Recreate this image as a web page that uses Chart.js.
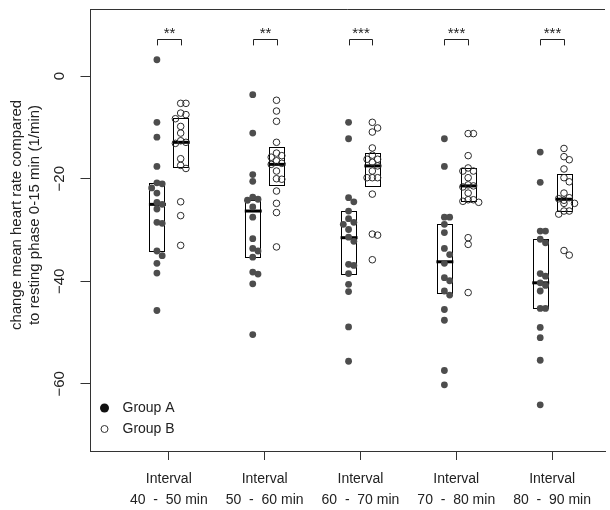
<!DOCTYPE html>
<html>
<head>
<meta charset="utf-8">
<script src="https://cdn.jsdelivr.net/npm/chart.js@4"></script>
<style>
  html, body { margin: 0; padding: 0; background: #fff; overflow: hidden; }
  #wrap { width: 610px; height: 510px; }
</style>
</head>
<body>
<div id="wrap"><canvas id="myChart" width="610" height="510"></canvas></div>
<script>
// 데이터
const categories = ["40  -  50 min", "50  -  60 min", "60  -  70 min", "70  -  80 min", "80  -  90 min"];
const yTicks = [0, -20, -40, -60];
const signif = ["**", "**", "***", "***", "***"];

const groupA = [
  [3.2, -9.0, -11.9, -17.6, -20.8, -21.0, -21.8, -22.8, -24.6, -25.0, -25.9, -28.5, -28.7, -34.1, -35.0, -36.5, -38.4, -45.7],
  [-3.6, -11.1, -19.2, -20.5, -23.6, -24.0, -24.2, -25.5, -27.5, -31.7, -33.6, -34.1, -35.3, -38.2, -38.6, -40.5, -50.4],
  [-9.0, -12.2, -23.7, -24.5, -26.3, -27.8, -28.5, -28.9, -29.9, -31.4, -32.2, -36.7, -36.9, -38.5, -40.6, -42.0, -48.9, -55.6],
  [-12.2, -17.6, -27.5, -27.5, -28.9, -30.5, -33.6, -34.8, -36.5, -39.3, -39.9, -41.9, -42.7, -45.5, -47.6, -57.4, -60.2],
  [-14.8, -20.7, -30.2, -30.2, -31.8, -32.5, -38.5, -39.0, -40.3, -40.8, -41.9, -45.3, -45.3, -49.0, -51.0, -55.4, -64.1],
];
const groupB = [
  [-5.3, -5.3, -7.2, -7.5, -8.3, -9.8, -11.1, -12.6, -12.9, -13.1, -16.1, -17.4, -18.0, -24.5, -27.2, -33.0],
  [-4.7, -6.8, -8.8, -12.9, -15.0, -15.5, -15.8, -16.5, -17.0, -17.2, -18.5, -20.0, -20.1, -22.4, -24.8, -26.6, -33.3],
  [-9.0, -10.1, -10.9, -14.0, -15.4, -16.2, -16.2, -16.8, -17.5, -18.5, -19.8, -19.8, -19.8, -23.0, -30.8, -31.0, -35.8],
  [-11.2, -11.2, -15.5, -17.9, -18.5, -18.5, -19.8, -21.2, -21.4, -21.6, -22.8, -24.1, -24.1, -24.4, -24.6, -31.5, -32.8, -42.2],
  [-14.1, -15.7, -16.3, -18.1, -19.8, -20.6, -22.8, -23.7, -23.9, -24.2, -24.8, -24.8, -26.3, -26.3, -26.9, -34.0, -34.9],
];

// 박스
const boxAUpper = [-20.8, -24.2, -26.3, -28.9, -31.8];
const boxAMedian = [-25.0, -26.3, -31.5, -36.2, -40.3];
const boxALower = [-34.1, -35.3, -38.5, -42.4, -45.3];
const boxBUpper = [-8.1, -13.9, -15.0, -17.9, -19.0];
const boxBMedian = [-12.9, -17.2, -17.5, -21.4, -24.0];
const boxBLower = [-17.7, -21.3, -21.5, -24.3, -26.3];

const FONT = "'Liberation Sans', Arial, sans-serif";
const SHIFT = 0.124;   // 그룹 A/B 좌우 위치
const HALF_BOX = 0.078;

// 겹치는 점은 옆으로 살짝 밀기
function spread(values, center) {
  const placed = [];
  const offsets = [0, 0.055, -0.055, 0.11];
  return values.map((v) => {
    let off = offsets.find((o) => !placed.some((p) => p.o === o && Math.abs(p.v - v) < 1.2));
    if (off === undefined) off = 0;
    placed.push({ o: off, v: v });
    return { x: center + off, y: v };
  });
}

const pointsA = groupA.flatMap((vals, i) => spread(vals, i + 1 - SHIFT));
const pointsB = groupB.flatMap((vals, i) => spread(vals, i + 1 + SHIFT));

// 박스, 괄호, 범례, 축 라벨 그리기
const decorPlugin = {
  id: "decor",
  beforeDatasetsDraw(chart) {
    const { ctx, scales: { x, y } } = chart;
    ctx.save();
    ctx.strokeStyle = "#000";
    const drawBox = (cx, up, med, low) => {
      const l = x.getPixelForValue(cx - HALF_BOX);
      const r = x.getPixelForValue(cx + HALF_BOX);
      const t = y.getPixelForValue(up);
      const b = y.getPixelForValue(low);
      ctx.lineWidth = 1;
      ctx.strokeRect(Math.round(l) + 0.5, Math.round(t) + 0.5, Math.round(r - l), Math.round(b - t));
      ctx.lineWidth = 3;
      ctx.beginPath();
      const m = y.getPixelForValue(med);
      ctx.moveTo(l - 0.5, m);
      ctx.lineTo(r + 1.5, m);
      ctx.stroke();
    };
    categories.forEach((c, i) => {
      drawBox(i + 1 - SHIFT, boxAUpper[i], boxAMedian[i], boxALower[i]);
      drawBox(i + 1 + SHIFT, boxBUpper[i], boxBMedian[i], boxBLower[i]);
    });
    ctx.restore();
  },
  afterDraw(chart) {
    const { ctx, chartArea, scales: { x, y } } = chart;
    ctx.save();
    // 위쪽 테두리
    ctx.strokeStyle = "#333";
    ctx.lineWidth = 1;
    ctx.beginPath();
    ctx.moveTo(chartArea.left, Math.round(chartArea.top) + 0.5);
    ctx.lineTo(chartArea.right, Math.round(chartArea.top) + 0.5);
    ctx.stroke();

    // 유의성 괄호
    ctx.strokeStyle = "#222";
    ctx.fillStyle = "#222";
    ctx.font = "15px " + FONT;
    ctx.textAlign = "center";
    ctx.textBaseline = "alphabetic";
    signif.forEach((s, i) => {
      const l = Math.round(x.getPixelForValue(i + 1 - SHIFT)) + 0.5;
      const r = Math.round(x.getPixelForValue(i + 1 + SHIFT)) + 0.5;
      const top = Math.round(y.getPixelForValue(7.2)) + 0.5;
      const foot = y.getPixelForValue(6.0);
      ctx.beginPath();
      ctx.moveTo(l, foot);
      ctx.lineTo(l, top);
      ctx.lineTo(r, top);
      ctx.lineTo(r, foot);
      ctx.stroke();
      ctx.fillText(s, (l + r) / 2, top - 1.5);
    });

    // y 눈금 라벨 (세로)
    ctx.fillStyle = "#222";
    ctx.font = "15px " + FONT;
    ctx.textBaseline = "middle";
    yTicks.forEach((v) => {
      const py = y.getPixelForValue(v);
      ctx.save();
      ctx.translate(60, py);
      ctx.rotate(-Math.PI / 2);
      ctx.fillText(v < 0 ? "\u2212" + Math.abs(v) : String(v), 0, 0);
      ctx.restore();
    });

    // y 축 제목
    ctx.save();
    ctx.translate(17, 215);
    ctx.rotate(-Math.PI / 2);
    ctx.fillText("change mean heart rate compared", 0, 0);
    ctx.fillText("to resting phase 0-15 min (1/min)", 0, 18);
    ctx.restore();

    // 범례
    const lx = chartArea.left + 14;
    const ly = chartArea.bottom - 43;
    ctx.fillStyle = "#111";
    ctx.beginPath();
    ctx.arc(lx, ly, 4.5, 0, Math.PI * 2);
    ctx.fill();
    ctx.strokeStyle = "#333";
    ctx.lineWidth = 1;
    ctx.beginPath();
    ctx.arc(lx, ly + 21, 3.5, 0, Math.PI * 2);
    ctx.stroke();
    ctx.fillStyle = "#222";
    ctx.font = "14px " + FONT;
    ctx.textAlign = "left";
    ctx.fillText("Group A", lx + 18, ly);
    ctx.fillText("Group B", lx + 18, ly + 21);
    ctx.restore();
  },
};

const ctx = document.getElementById("myChart").getContext("2d");
const myChart = new Chart(ctx, {
  type: "scatter",
  data: {
    datasets: [
      {
        label: "Group A",
        data: pointsA,
        pointRadius: 3.4,
        pointBackgroundColor: "#4d4d4d",
        pointBorderColor: "#4d4d4d",
        pointBorderWidth: 0,
      },
      {
        label: "Group B",
        data: pointsB,
        pointRadius: 3.3,
        pointBackgroundColor: "rgba(0,0,0,0)",
        pointBorderColor: "#2a2a2a",
        pointBorderWidth: 1,
      },
    ],
  },
  options: {
    responsive: false,
    animation: false,
    events: [],
    layout: { padding: { top: 9, right: 0, left: 0, bottom: 0 } },
    plugins: { legend: { display: false }, tooltip: { enabled: false } },
    scales: {
      x: {
        type: "linear",
        min: 0.183,
        max: 5.552,
        afterFit: (scale) => { scale.height = 59; },
        afterBuildTicks: (scale) => {
          scale.ticks = categories.map((c, i) => ({ value: i + 1 }));
        },
        grid: { drawOnChartArea: false, drawTicks: true, tickLength: 9, tickColor: "#333" },
        border: { display: true, color: "#333", width: 1 },
        ticks: {
          autoSkip: false,
          maxRotation: 0,
          padding: 8.5,
          color: "#222",
          font: { family: FONT, size: 14, lineHeight: 1.5 },
          callback: (v) => ["Interval", categories[v - 1]],
        },
      },
      y: {
        min: -73.1,
        max: 13.1,
        afterFit: (scale) => { scale.width = 90.5; },
        afterBuildTicks: (scale) => {
          scale.ticks = yTicks.map((v) => ({ value: v }));
        },
        grid: { drawOnChartArea: false, drawTicks: true, tickLength: 10, tickColor: "#333" },
        border: { display: true, color: "#333", width: 1 },
        ticks: { display: false },
      },
    },
  },
  plugins: [decorPlugin],
});
</script>
</body>
</html>
